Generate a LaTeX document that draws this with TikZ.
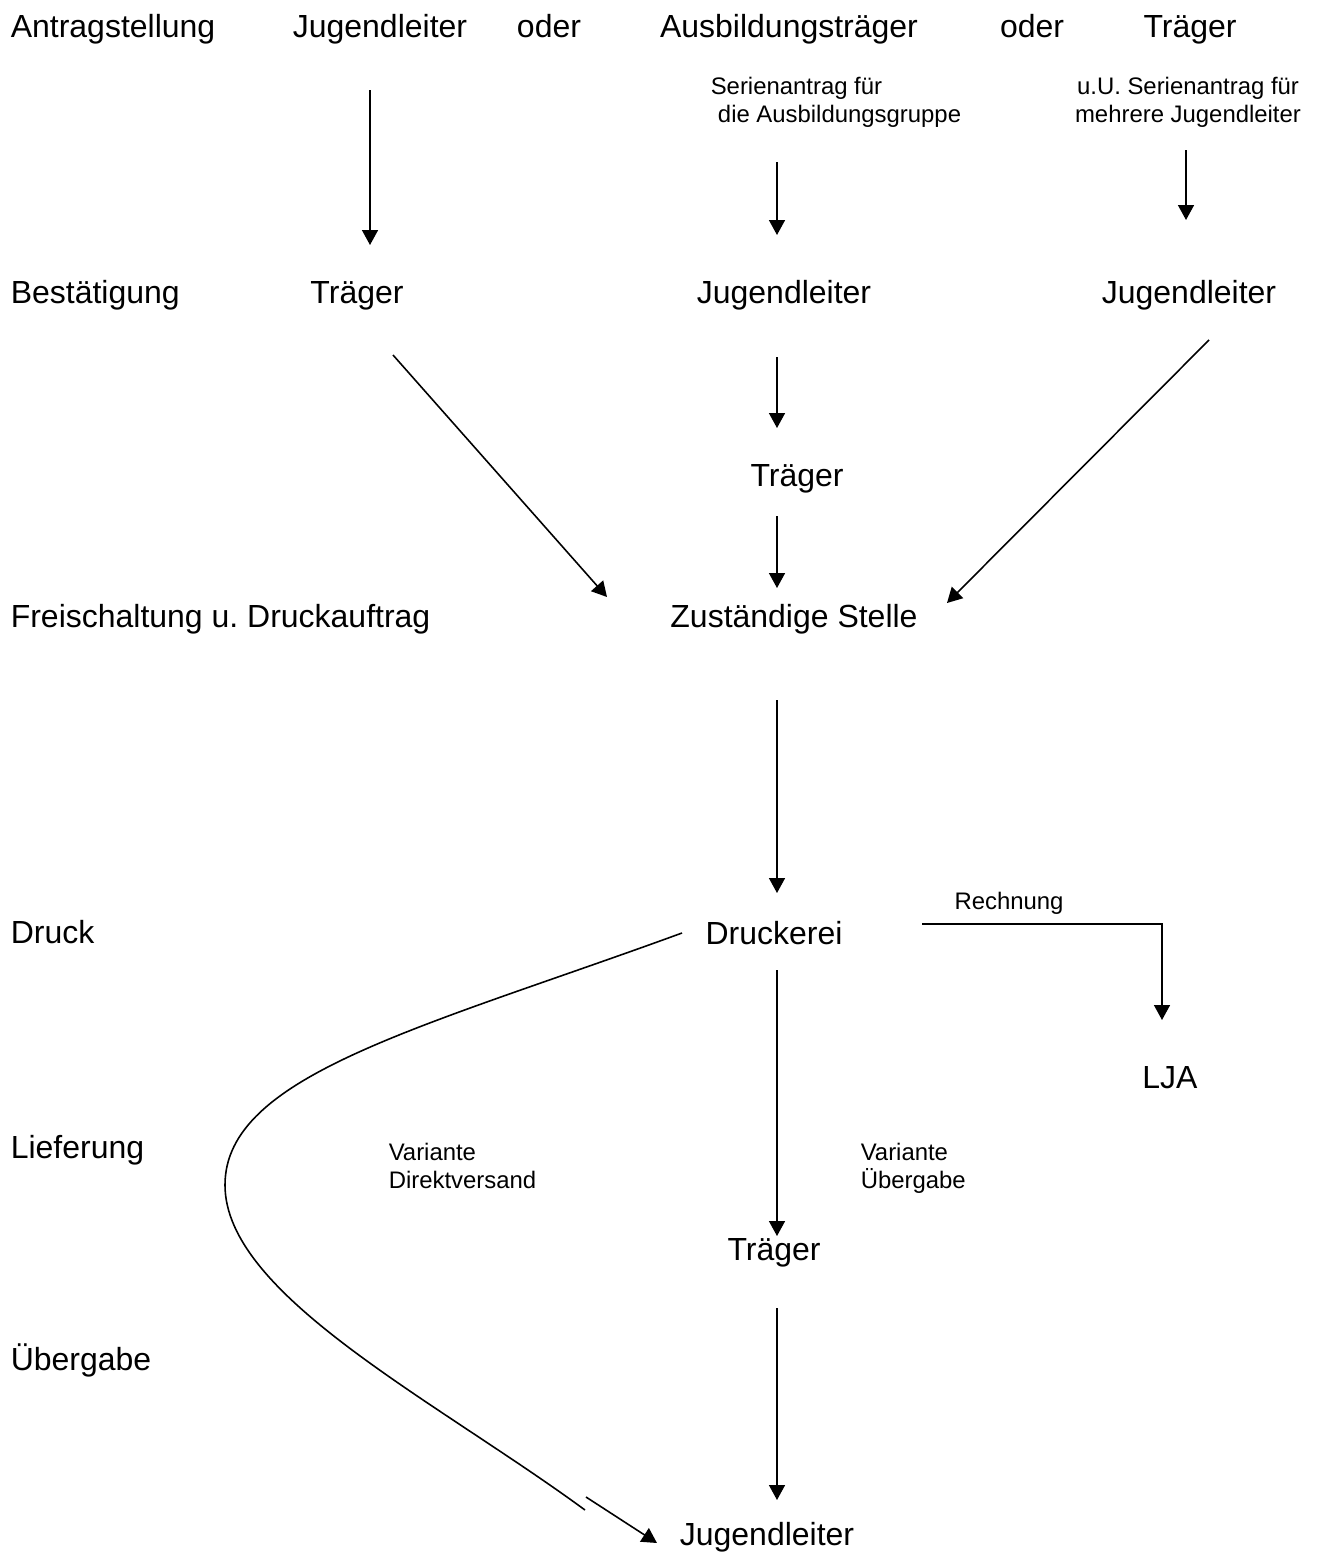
\documentclass[tikz,border=0pt]{standalone}
\usepackage{fontspec}
\setmainfont{Liberation Sans}
\usetikzlibrary{arrows.meta,calc}
\frenchspacing

\tikzset{
  big/.style={font=\fontsize{18.2}{22}\selectfont, inner sep=0pt},
  small/.style={font=\fontsize{13.6}{15.9}\selectfont, inner sep=0pt},
  arr/.style={-{Triangle[width=3.2mm,length=3mm]}},
}

\begin{document}
\begin{tikzpicture}[x=0.2mm, y=-0.2mm, line width=0.9pt]
            \useasboundingbox (0,0) rectangle (1321,1556);
            % left column
            \node[big, anchor=base west] (antrag) at (10,37) {Antragstellung};
            \node[big, anchor=base west] (bestaet) at (10,303) {Bestätigung};
            \node[big, anchor=base west] (frei) at (10,627) {Freischaltung u. Druckauftrag};
            \node[big, anchor=base west] (druck) at (10,943) {Druck};
            \node[big, anchor=base west] (liefer) at (10,1158) {Lieferung};
            \node[big, anchor=base west] (uebergabe) at (10,1370) {Übergabe};
            % first row
            \node[big, anchor=base] (jl1) at (380,37) {Jugendleiter};
            \node[big, anchor=base] (oder1) at (549,37) {oder};
            \node[big, anchor=base] (ausb) at (789,37) {Ausbildungsträger};
            \node[big, anchor=base] (oder2) at (1032,37) {oder};
            \node[big, anchor=base] (trA) at (1190,37) {Träger};
            \node[small, anchor=north west, align=left] (serA) at (710,76)
                {Serienantrag für\\\hspace*{0.3em}die Ausbildungsgruppe};
            \node[small, anchor=north, align=center] (serB) at (1188,76)
                {u.U. Serienantrag für\\mehrere Jugendleiter};
            % second row
            \node[big, anchor=base] (tr1) at (357,303) {Träger};
            \node[big, anchor=base] (jl2) at (784,303) {Jugendleiter};
            \node[big, anchor=base] (jl3) at (1189,303) {Jugendleiter};
            \node[big, anchor=base] (tr2) at (797,486) {Träger};
            \node[big, anchor=base] (zust) at (794,627) {Zuständige Stelle};
            % print and delivery
            \node[big, anchor=base] (druckerei) at (774,944) {Druckerei};
            \node[small, anchor=base] (rechn) at (1009,909) {Rechnung};
            \node[big, anchor=base] (lja) at (1170,1088) {LJA};
            \node[small, anchor=north west, align=left] (vardir) at (388,1142)
                {Variante\\Direktversand};
            \node[small, anchor=north west, align=left] (varueb) at (860,1142)
                {Variante\\Übergabe};
            \node[big, anchor=base] (tr3) at (774,1260) {Träger};
            \node[big, anchor=base] (jl4) at (767,1545) {Jugendleiter};

            \draw[arr] ($(jl1.base)+(-10,53)$) -- ($(tr1.base)+(13,-58)$);
            \draw[arr] ($(ausb.base)+(-12,125)$) -- ($(jl2.base)+(-7,-68)$);
            \draw[arr] ($(trA.base)+(-4,113)$) -- ($(jl3.base)+(-3,-83)$);
            \draw[arr] ($(tr1.base)+(36,52)$) -- ($(zust.base)+(-187,-30)$);
            \draw[arr] ($(jl2.base)+(-7,54)$) -- ($(tr2.base)+(-20,-58)$);
            \draw[arr] ($(tr2.base)+(-20,30)$) -- ($(zust.base)+(-17,-39)$);
            \draw[arr] ($(jl3.base)+(20,37)$) -- ($(zust.base)+(153,-24)$);
            \draw[arr] ($(zust.base)+(-17,73)$) -- ($(druckerei.base)+(3,-51)$);
            \draw[arr] ($(druckerei.base)+(148,-20)$) -| ($(lja.base)+(-8,-68)$);
            \draw[arr] ($(druckerei.base)+(3,26)$) -- ($(tr3.base)+(3,-24)$);
            \draw[arr] ($(tr3.base)+(3,48)$) -- ($(jl4.base)+(10,-45)$);

            % direct shipping curve, broken before its arrow
            \coordinate (cleft) at (225,1185);
            \coordinate (cbreak) at (585,1510);
            \draw ($(druckerei.base)+(-92,-11)$) .. controls +(-260,95) and +(0,-110) .. (cleft)
                .. controls +(0,110) and +(-150,-110) .. (cbreak);
            \draw[arr] ($(cbreak)+(1,-13)$) -- ($(jl4.base)+(-110,-2)$);
        \end{tikzpicture}
\end{document}
